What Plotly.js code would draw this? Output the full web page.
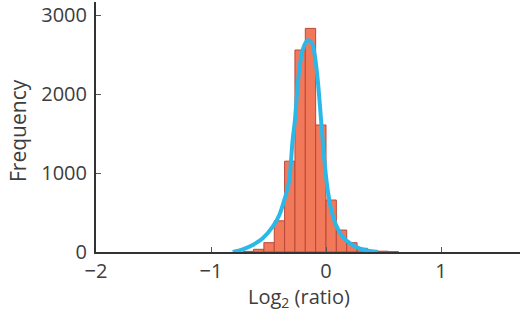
<!DOCTYPE html>
<html>
<head>
<meta charset="utf-8">
<script src="https://cdn.plot.ly/plotly-3.0.1.min.js"></script>
<style>html,body{margin:0;padding:0;background:#fff;}#chart{width:520px;height:312px;}</style>
</head>
<body>
<div id="chart"></div>
<script>
// Histogram bins (centers of log2 ratio bins) and counts
var binCenters = [-0.675, -0.585, -0.495, -0.405, -0.315, -0.225, -0.135, -0.045, 0.045, 0.135, 0.225, 0.315, 0.405, 0.495, 0.585];
var binCounts  = [8, 34, 118, 395, 1150, 2557, 2831, 1608, 658, 278, 118, 47, 20, 10, 4];
var binWidth = 0.09;

// Fitted curve, points
var fitX = [-0.811, -0.724, -0.637, -0.550, -0.463, -0.406, -0.363, -0.324, -0.290, -0.270, -0.252, -0.232, -0.203, -0.165, -0.154, -0.124, -0.096, -0.072, -0.052, -0.029, -0.006, 0.015, 0.043, 0.087, 0.145, 0.217, 0.290, 0.377, 0.450];
var fitY = [0, 34, 89, 173, 320, 468, 658, 870, 1418, 1671, 2009, 2304, 2557, 2675, 2680, 2649, 2472, 2177, 1839, 1418, 1038, 785, 553, 342, 194, 101, 47, 13, 0];

var xTickVals = [-2, -1, 0, 1];
var yTickVals = [0, 1000, 2000, 3000];

var fontFam = '"Open Sans", "Noto Sans", sans-serif';
var textCol = '#3d3d3d';

var traces = [
  {
    type: 'bar',
    x: binCenters,
    y: binCounts,
    width: binCenters.map(function(){return binWidth;}),
    marker: {color: '#f2785a', line: {color: '#b8483a', width: 1}},
    hoverinfo: 'x+y'
  },
  {
    type: 'scatter',
    mode: 'lines',
    x: fitX,
    y: fitY,
    line: {color: '#2bb8e8', width: 4, shape: 'spline', smoothing: 1},
    hoverinfo: 'x+y'
  }
];

var layout = {
  width: 520,
  height: 312,
  margin: {l: 96, r: 0, t: 2, b: 60},
  paper_bgcolor: '#fff',
  plot_bgcolor: '#fff',
  showlegend: false,
  bargap: 0,
  font: {family: fontFam, color: textCol, size: 20},
  xaxis: {
    range: [-2, 1.687],
    tickvals: xTickVals,
    ticks: 'inside',
    ticklen: 5,
    tickwidth: 1,
    tickcolor: '#555',
    showline: true,
    linecolor: '#333',
    linewidth: 2,
    showgrid: false,
    zeroline: false,
    ticklabelstandoff: 0,
    tickfont: {family: fontFam, size: 20, color: textCol},
    fixedrange: true
  },
  yaxis: {
    range: [0, 3165],
    tickvals: yTickVals,
    ticks: 'inside',
    ticklen: 5,
    tickwidth: 1,
    tickcolor: '#555',
    showline: true,
    linecolor: '#333',
    linewidth: 2,
    showgrid: false,
    zeroline: false,
    ticklabelstandoff: 3,
    tickfont: {family: fontFam, size: 20, color: textCol},
    fixedrange: true
  },
  annotations: [
    {
      text: 'Log<sub>2</sub> (ratio)',
      xref: 'x', yref: 'paper',
      x: -0.235, y: -0.182,
      xanchor: 'center', yanchor: 'middle',
      showarrow: false,
      font: {family: fontFam, size: 20, color: textCol}
    },
    {
      text: 'Frequency',
      xref: 'paper', yref: 'paper',
      x: -0.184, y: 0.488,
      xanchor: 'center', yanchor: 'middle',
      textangle: -90,
      showarrow: false,
      font: {family: fontFam, size: 21, color: textCol}
    }
  ]
};

Plotly.newPlot('chart', traces, layout, {displayModeBar: false, staticPlot: true});
</script>
</body>
</html>
